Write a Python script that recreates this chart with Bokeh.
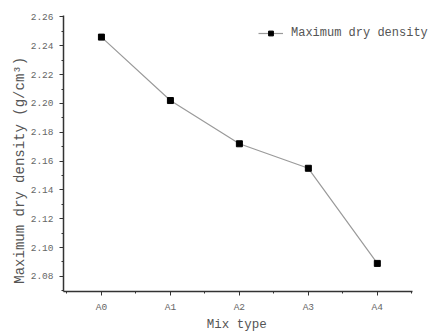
from bokeh.plotting import figure
from bokeh.models import FixedTicker, Range1d, ColumnDataSource, Legend, LegendItem, CustomJSTickFormatter
from bokeh.embed import file_html
from bokeh.resources import INLINE

mix_types = ["A0", "A1", "A2", "A3", "A4"]
max_dry_density = [2.246, 2.202, 2.172, 2.155, 2.089]
y_ticks = [2.08, 2.10, 2.12, 2.14, 2.16, 2.18, 2.20, 2.22, 2.24, 2.26]

FONT = "Liberation Mono"
NB = "\u00a0"

xs = list(range(len(mix_types)))
src = ColumnDataSource(dict(x=xs, y=max_dry_density))

p = figure(width=435, height=334, output_backend="svg", toolbar_location=None,
           x_range=Range1d(-0.55, 4.80), y_range=Range1d(2.0695, 2.261),
           min_border_left=63, min_border_right=3, min_border_top=15, min_border_bottom=41)
p.outline_line_color = None
p.xgrid.visible = False
p.ygrid.visible = False

r_line = p.line("x", "y", source=src, line_color="#9a9a9a", line_width=1.2)
r_pts = p.scatter("x", "y", source=src, marker="square", size=6, fill_color="black", line_color="black")

p.xaxis.ticker = FixedTicker(ticks=xs, minor_ticks=[i - 0.5 for i in range(len(xs) + 1)])
p.xaxis.major_label_overrides = {i: m for i, m in enumerate(mix_types)}
p.xaxis.bounds = (-0.55, 4.51)
p.yaxis.ticker = FixedTicker(ticks=y_ticks, minor_ticks=[round(2.07 + 0.01 * i, 2) for i in range(20)])
p.yaxis.formatter = CustomJSTickFormatter(code="return tick.toFixed(2);")

for ax in (p.xaxis, p.yaxis):
    ax.axis_line_color = "#333333"
    ax.axis_line_width = 1.5
    ax.major_tick_line_color = "#333333"
    ax.minor_tick_line_color = "#333333"
    ax.major_tick_out = 4
    ax.major_tick_in = 0
    ax.minor_tick_out = 2
    ax.minor_tick_in = 0
    ax.major_label_text_font = FONT
    ax.major_label_text_font_size = "9.5px"
    ax.major_label_text_color = "#666666"
    ax.axis_label_text_font = FONT
    ax.axis_label_text_font_style = "normal"
    ax.axis_label_text_color = "#555555"

p.xaxis.axis_label = "Mix type" + NB * 3
p.yaxis.axis_label = "Maximum dry density (g/cm³)" + NB * 4
p.xaxis.axis_label_text_font_size = "12.5px"
p.yaxis.axis_label_text_font_size = "14px"
p.xaxis.major_label_standoff = 6
p.xaxis.axis_label_standoff = 2
p.yaxis.major_label_standoff = 6
p.yaxis.axis_label_standoff = 0

legend = Legend(items=[LegendItem(label="Maximum dry density", renderers=[r_line, r_pts])],
                location=(195, 251), border_line_color=None, background_fill_alpha=0,
                label_text_font=FONT, label_text_font_size="12px", label_text_color="#555555",
                glyph_width=25, glyph_height=12, margin=0, padding=2, spacing=0, label_standoff=8)
p.add_layout(legend)

open("out.html", "w").write(file_html(p, INLINE))
